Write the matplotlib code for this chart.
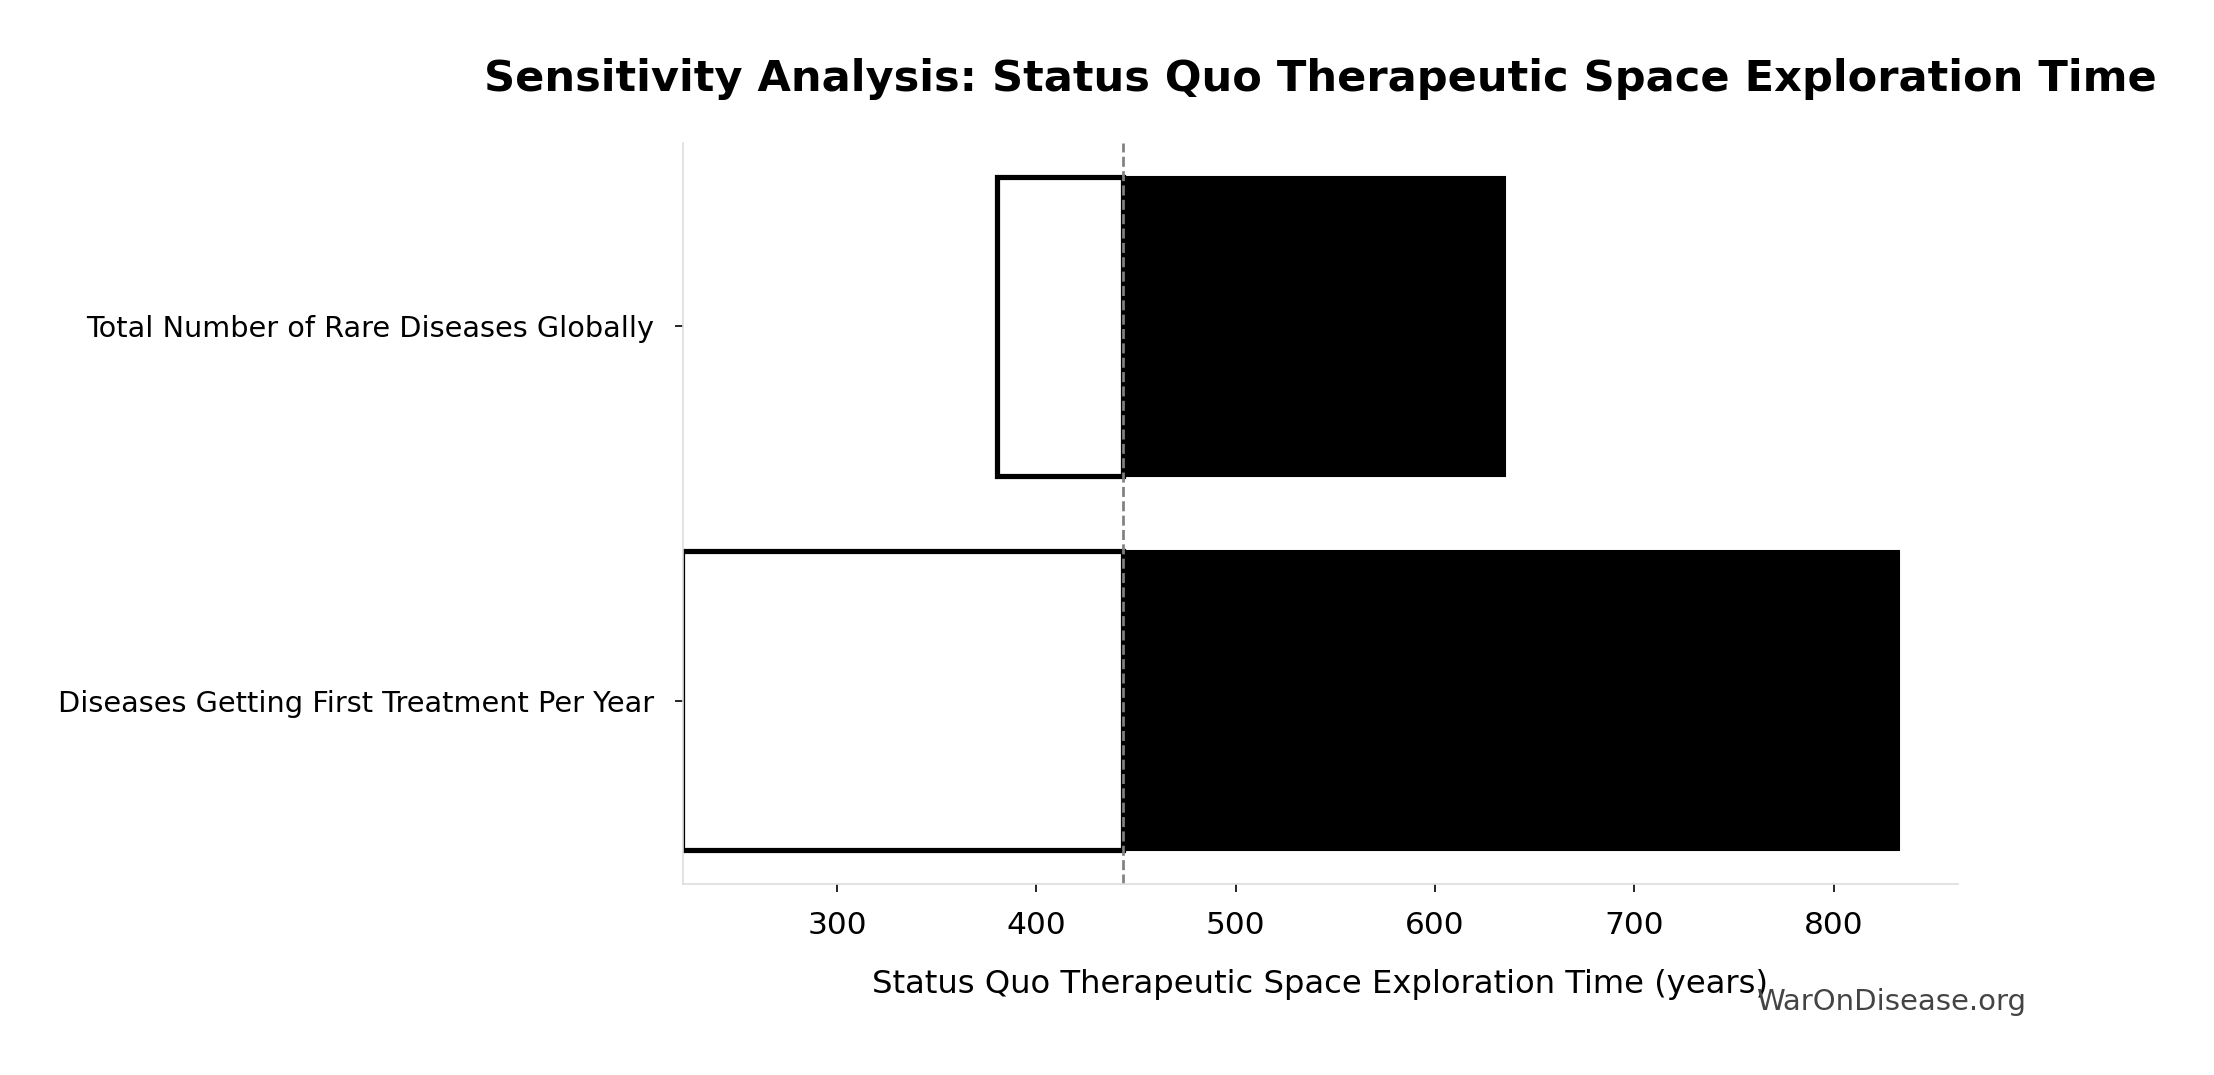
import numpy as np
import matplotlib.pyplot as plt

params = ["Diseases Getting First Treatment Per Year", "Total Number of Rare Diseases Globally"]
low_vals = [222, 380]
high_vals = [833, 635]
baseline = 443.5

fig = plt.figure(figsize=(14.76, 7.1667), dpi=150)
ax = fig.add_axes([0.3084, 0.1776, 0.576, 0.6895])

ypos = np.arange(len(params))
for y, lo, hi in zip(ypos, low_vals, high_vals):
    ax.barh(y, baseline - lo, left=lo, height=0.8, color="white", edgecolor="black", linewidth=2.5)
    ax.barh(y, hi - baseline, left=baseline, height=0.8, color="black", edgecolor="black", linewidth=1)

ax.axvline(baseline, color="grey", linestyle="--", linewidth=1.3)

ax.set_yticks(ypos)
ax.set_yticklabels(params, fontsize=13.8)
ax.set_xlim(222.5, 862.5)
ax.tick_params(axis="x", labelsize=15, length=4, pad=9)
ax.tick_params(axis="y", length=4, pad=10)
ax.set_xlabel("Status Quo Therapeutic Space Exploration Time (years)", fontsize=15.5, labelpad=14)
ax.set_title("Sensitivity Analysis: Status Quo Therapeutic Space Exploration Time",
             fontsize=20.7, fontweight="bold", pad=25)

ax.spines["top"].set_visible(False)
ax.spines["right"].set_visible(False)
ax.spines["left"].set_color("#dddddd")
ax.spines["bottom"].set_color("#dddddd")

fig.text(0.915, 0.068, "WarOnDisease.org", ha="right", va="center", fontsize=14, color="#444444")

fig.savefig("out.png", dpi=150)
